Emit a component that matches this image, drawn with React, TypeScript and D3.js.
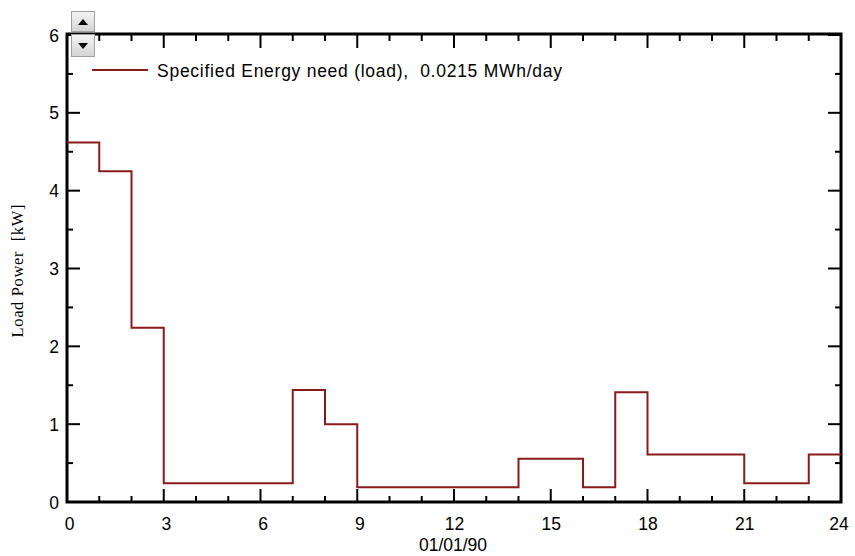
import React from "react";
import * as d3 from "d3";

const hours = [0, 1, 2, 3, 4, 5, 6, 7, 8, 9, 10, 11, 12, 13, 14, 15, 16, 17, 18, 19, 20, 21, 22, 23];
const loadKW = [4.62, 4.25, 2.24, 0.24, 0.24, 0.24, 0.24, 1.44, 1.0, 0.19, 0.19, 0.19, 0.19, 0.19, 0.555, 0.555, 0.19, 1.41, 0.61, 0.61, 0.61, 0.24, 0.24, 0.61];
const xTickLabels = [0, 3, 6, 9, 12, 15, 18, 21, 24];
const yTickLabels = [0, 1, 2, 3, 4, 5, 6];
const legendText = "Specified Energy need (load),  0.0215 MWh/day";
const xAxisTitle = "01/01/90";
const yAxisTitle = "Load Power  [kW]";

const W = 855;
const H = 556;
const L = 67, R = 841, T = 34, B = 502;

export default function App() {
  const x = d3.scaleLinear().domain([0, 24]).range([L, R]);
  const y = d3.scaleLinear().domain([0, 6]).range([B, T + 1]);
  const pts: [number, number][] = hours.map((h, i) => [h, loadKW[i]]);
  pts.push([24, loadKW[loadKW.length - 1]]);
  const line = d3.line<[number, number]>().x(d => x(d[0])).y(d => y(d[1])).curve(d3.curveStepAfter);

  const xMinor = d3.range(0, 25, 1);
  const yMinor = d3.range(0, 6.01, 0.5);
  const font = "Arial, 'Liberation Sans', sans-serif";

  return (
    <svg width={W} height={H} style={{ position: "absolute", left: 0, top: 0, background: "#fff" }}>
      <rect x={0} y={0} width={W} height={H} fill="#fff" />
      {/* x ticks */}
      {xMinor.map(v => {
        const major = v % 3 === 0;
        const len = major ? 13 : 6;
        return (
          <g key={"xt" + v} stroke="#000" strokeWidth={2}>
            <line x1={x(v)} x2={x(v)} y1={B} y2={B - len} />
            <line x1={x(v)} x2={x(v)} y1={T} y2={T + len + 1} />
          </g>
        );
      })}
      {yMinor.map(v => {
        const major = Math.abs(v - Math.round(v)) < 1e-6;
        const len = major ? 13 : 6;
        return (
          <g key={"yt" + v} stroke="#000" strokeWidth={2}>
            <line x1={L} x2={L + len} y1={y(v)} y2={y(v)} />
            <line x1={R} x2={R - len} y1={y(v)} y2={y(v)} />
          </g>
        );
      })}
      {/* frame */}
      <rect x={L} y={T} width={R - L} height={B - T} fill="none" stroke="#000" strokeWidth={3} />
      {/* step line */}
      <path d={line(pts) || ""} fill="none" stroke="#8b1a1a" strokeWidth={2} />
      {/* tick labels */}
      {xTickLabels.map(v => (
        <text key={"xl" + v} x={x(v) + (v < 10 ? 2.5 : v === 24 ? -2 : 0.5)} y={530} textAnchor="middle" fontFamily={font} fontSize={17.5} fill="#000">{v}</text>
      ))}
      {yTickLabels.map(v => (
        <text key={"yl" + v} x={59} y={y(v) + 6.5} textAnchor="end" fontFamily={font} fontSize={17.5} fill="#000">{v}</text>
      ))}
      {/* axis titles */}
      <text x={453} y={551} textAnchor="middle" fontFamily={font} fontSize={17.5} fill="#000">{xAxisTitle}</text>
      <text transform={`translate(23,271) rotate(-90)`} textAnchor="middle" fontFamily="'Liberation Serif', 'Times New Roman', serif" fontSize={16.5} fill="#000" style={{ whiteSpace: "pre" }} textLength={133} lengthAdjust="spacing">{yAxisTitle}</text>
      {/* legend */}
      <line x1={92} x2={148} y1={70} y2={70} stroke="#8b1a1a" strokeWidth={2} />
      <text x={157} y={77} fontFamily={font} fontSize={17.5} fill="#000" style={{ whiteSpace: "pre" }} textLength={405} lengthAdjust="spacing">{legendText}</text>
      {/* scroll buttons */}
      <defs>
        <linearGradient id="btn" x1="0" y1="0" x2="0" y2="1">
          <stop offset="0" stopColor="#f4f4f4" />
          <stop offset="1" stopColor="#d4d4d4" />
        </linearGradient>
      </defs>
      <rect x={71.5} y={11.5} width={23} height={20} fill="url(#btn)" stroke="#a0a0a0" />
      <path d="M78,25 L88,25 L83,19 Z" fill="#000" />
      <rect x={71.5} y={34.5} width={23} height={22} fill="url(#btn)" stroke="#a0a0a0" />
      <path d="M78,43 L88,43 L83,49 Z" fill="#000" />
    </svg>
  );
}
